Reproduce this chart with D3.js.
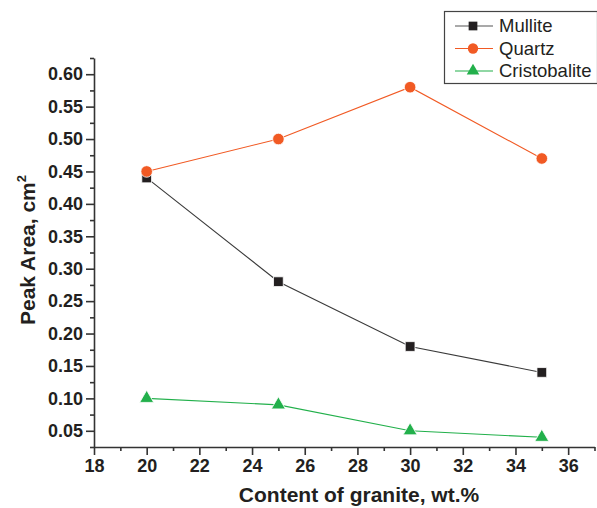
<!DOCTYPE html>
<html>
<head>
<meta charset="utf-8">
<script src="https://cdn.jsdelivr.net/npm/d3@7"></script>
<style>
  body { margin: 0; background: #fff; }
  svg { display: block; }
</style>
</head>
<body>
<div id="chart"></div>
<script>
// Data
const granite = [20, 25, 30, 35];
const mullite = [0.44, 0.28, 0.18, 0.14];
const quartz = [0.45, 0.50, 0.58, 0.47];
const cristobalite = [0.10, 0.09, 0.05, 0.04];

const xTicks = [18, 20, 22, 24, 26, 28, 30, 32, 34, 36];
const yTicks = [0.05, 0.10, 0.15, 0.20, 0.25, 0.30, 0.35, 0.40, 0.45, 0.50, 0.55, 0.60];

const seriesNames = ["Mullite", "Quartz", "Cristobalite"];

// Size
const width = 597,
      height = 508,
      margin = { top: 58, left: 94, bottom: 61, right: 2 };

const series = [
  { name: seriesNames[0], values: mullite, color: "#231f20", line: "#3a3a3a", symbol: d3.symbolSquare, size: 95 },
  { name: seriesNames[1], values: quartz, color: "#f15a24", line: "#f15a24", symbol: d3.symbolCircle, size: 105 },
  { name: seriesNames[2], values: cristobalite, color: "#22b04b", line: "#22b04b", symbol: d3.symbolTriangle, size: 85 }
];

const svg = d3.select("#chart").append("svg")
    .attr("width", width)
    .attr("height", height);

// Scales
const xScale = d3.scaleLinear()
    .domain([18, 37])
    .range([margin.left, width - margin.right - 0.5]);

const yScale = d3.scaleLinear()
    .domain([0.025, 0.625])
    .range([height - margin.bottom, margin.top]);

const axisColor = "#333";
const font = "'Liberation Sans', Arial, sans-serif";

// Y axis
const yAxis = svg.append("g")
    .attr("transform", "translate(" + margin.left + ",0)")
    .call(d3.axisLeft(yScale).tickValues(yTicks).tickFormat(d3.format(".2f")).tickSize(8).tickSizeOuter(0));

const yMinor = d3.range(0, 12).map(i => 0.025 + i * 0.05).concat([0.625]);
svg.append("g")
    .attr("transform", "translate(" + margin.left + ",0)")
    .call(d3.axisLeft(yScale).tickValues(yMinor).tickFormat("").tickSize(4).tickSizeOuter(0))
    .call(g => g.select(".domain").remove());

// X axis
const xAxis = svg.append("g")
    .attr("transform", "translate(0," + (height - margin.bottom) + ")")
    .call(d3.axisBottom(xScale).tickValues(xTicks).tickSize(8).tickSizeOuter(0));

const xMinor = d3.range(19, 38, 2);
svg.append("g")
    .attr("transform", "translate(0," + (height - margin.bottom) + ")")
    .call(d3.axisBottom(xScale).tickValues(xMinor).tickFormat("").tickSize(4).tickSizeOuter(0))
    .call(g => g.select(".domain").remove());

svg.selectAll(".domain, .tick line")
    .attr("stroke", axisColor)
    .attr("stroke-width", 1.6);

yAxis.selectAll(".tick text")
    .attr("x", -11)
    .style("font-family", font)
    .style("font-size", "18px")
    .style("font-weight", "bold")
    .attr("fill", "#231f20");

xAxis.selectAll(".tick text")
    .attr("y", 12)
    .style("font-family", font)
    .style("font-size", "18px")
    .style("font-weight", "bold")
    .attr("fill", "#231f20");

// Axis titles
svg.append("text")
    .attr("x", 359)
    .attr("y", 502)
    .attr("text-anchor", "middle")
    .style("font-family", font)
    .style("font-size", "21px")
    .style("font-weight", "bold")
    .attr("fill", "#231f20")
    .text("Content of granite, wt.%");

const yTitle = svg.append("text")
    .attr("transform", "translate(35,250) rotate(-90)")
    .attr("text-anchor", "middle")
    .style("font-family", font)
    .style("font-size", "21px")
    .style("font-weight", "bold")
    .attr("fill", "#231f20");
yTitle.append("tspan").text("Peak Area, cm");
yTitle.append("tspan").attr("dy", -9).style("font-size", "13px").text("2");

// Lines and markers
const lineShape = d3.line()
    .x((d, i) => xScale(granite[i]))
    .y(d => yScale(d));

const seriesG = svg.append("g").selectAll("g")
    .data(series)
  .enter().append("g");

seriesG.append("path")
    .attr("d", d => lineShape(d.values))
    .attr("fill", "none")
    .attr("stroke", d => d.line)
    .attr("stroke-width", 1.1);

seriesG.each(function(s) {
  d3.select(this).selectAll(".marker")
      .data(s.values)
    .enter().append("path")
      .attr("class", "marker")
      .attr("transform", (d, i) => "translate(" + xScale(granite[i]) + "," + yScale(d) + ")")
      .attr("d", d3.symbol().type(s.symbol).size(s.size))
      .attr("fill", s.color)
      .attr("stroke", "#fff")
      .attr("stroke-width", 0.8);
});

// Legend
const legend = svg.append("g")
    .attr("transform", "translate(444,11)");

legend.append("rect")
    .attr("x", 0.5)
    .attr("y", 0.5)
    .attr("width", 153)
    .attr("height", 72)
    .attr("fill", "#fff")
    .attr("stroke", "#444")
    .attr("stroke-width", 1.2);

const legendItem = legend.selectAll(".item")
    .data(series)
  .enter().append("g")
    .attr("class", "item")
    .attr("transform", (d, i) => "translate(0," + (15 + i * 22.5) + ")");

legendItem.append("line")
    .attr("x1", 11)
    .attr("x2", 49)
    .attr("stroke", d => d.line === "#3a3a3a" ? "#555" : d.line)
    .attr("stroke-width", 1.2);

legendItem.append("path")
    .attr("transform", "translate(29,0)")
    .attr("d", d => d3.symbol().type(d.symbol).size(d.size * 0.8)())
    .attr("fill", d => d.color);

legendItem.append("text")
    .attr("x", 55)
    .attr("dy", "0.35em")
    .style("font-family", font)
    .style("font-size", "18.5px")
    .attr("fill", "#231f20")
    .text(d => d.name);
</script>
</body>
</html>
